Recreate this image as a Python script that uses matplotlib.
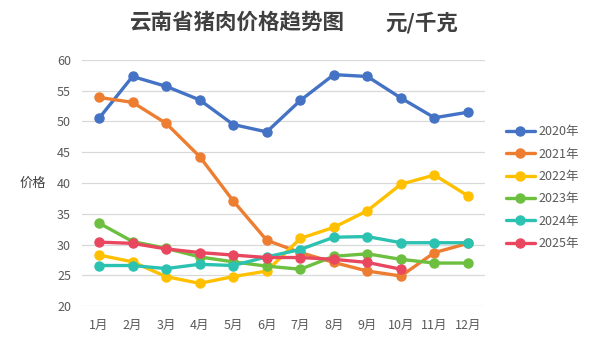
import matplotlib
matplotlib.use("Agg")
import matplotlib.pyplot as plt

plt.rcParams['font.family'] = ['Noto Sans CJK SC', 'DejaVu Sans']

months = ["1月", "2月", "3月", "4月", "5月", "6月", "7月", "8月", "9月", "10月", "11月", "12月"]
y2020 = [50.5, 57.3, 55.7, 53.5, 49.5, 48.3, 53.4, 57.6, 57.3, 53.8, 50.6, 51.5]
y2021 = [53.9, 53.1, 49.7, 44.3, 37.1, 30.7, 28.7, 27.1, 25.7, 24.9, 28.7, 30.2]
y2022 = [28.3, 27.2, 24.8, 23.7, 24.8, 25.7, 31.0, 32.8, 35.5, 39.8, 41.3, 37.9]
y2023 = [33.5, 30.5, 29.4, 28.0, 27.2, 26.5, 26.0, 28.1, 28.5, 27.6, 27.0, 27.0]
y2024 = [26.6, 26.6, 26.1, 26.8, 26.6, 28.0, 29.2, 31.2, 31.3, 30.3, 30.3, 30.3]
y2025 = [30.4, 30.2, 29.3, 28.7, 28.3, 27.9, 27.9, 27.6, 27.1, 26.0]
series_names = ["2020年", "2021年", "2022年", "2023年", "2024年", "2025年"]
series = [y2020, y2021, y2022, y2023, y2024, y2025]
colors = ["#4472C4", "#ED7D31", "#FFC000", "#6DBF3F", "#2CC2B2", "#E8475F"]
yticks = [20, 25, 30, 35, 40, 45, 50, 55, 60]

fig = plt.figure(figsize=(6, 3.44), dpi=100)
ax = fig.add_axes([0.137, 0.110, 0.671, 0.716])

x = list(range(1, 13))
for name, vals, c in zip(series_names, series, colors):
    ax.plot(x[:len(vals)], vals, color=c, lw=2.4, marker='o', ms=6.5, label=name,
            solid_capstyle='round')

ax.set_xlim(0.5, 12.5)
ax.set_ylim(20, 60)
ax.set_yticks(yticks)
ax.set_xticks(x)
ax.set_xticklabels(months)
ax.grid(axis='y', color='#D9D9D9', lw=0.9)
ax.set_axisbelow(True)
for s in ax.spines.values():
    s.set_visible(False)
ax.tick_params(length=0, labelsize=9, colors='#595959')
ax.tick_params(axis='x', pad=9)
ax.tick_params(axis='y', pad=8)

fig.text(0.055, 0.468, "价格", fontsize=9.5, color='#404040', ha='center', va='center')
fig.text(130 / 600, 0.935, "云南省猪肉价格趋势图", fontsize=15.5, fontweight='bold',
         color='#404040', ha='left', va='center')
fig.text(385 / 600, 0.935, "元/千克", fontsize=15.5, fontweight='bold',
         color='#404040', ha='left', va='center')

leg = ax.legend(loc='upper left', bbox_to_anchor=(1.04, 0.755), frameon=False,
                fontsize=9, labelspacing=0.75, handlelength=2.3, handletextpad=0.3,
                borderaxespad=0)
for t in leg.get_texts():
    t.set_color('#595959')

fig.savefig("out.png", dpi=100)
